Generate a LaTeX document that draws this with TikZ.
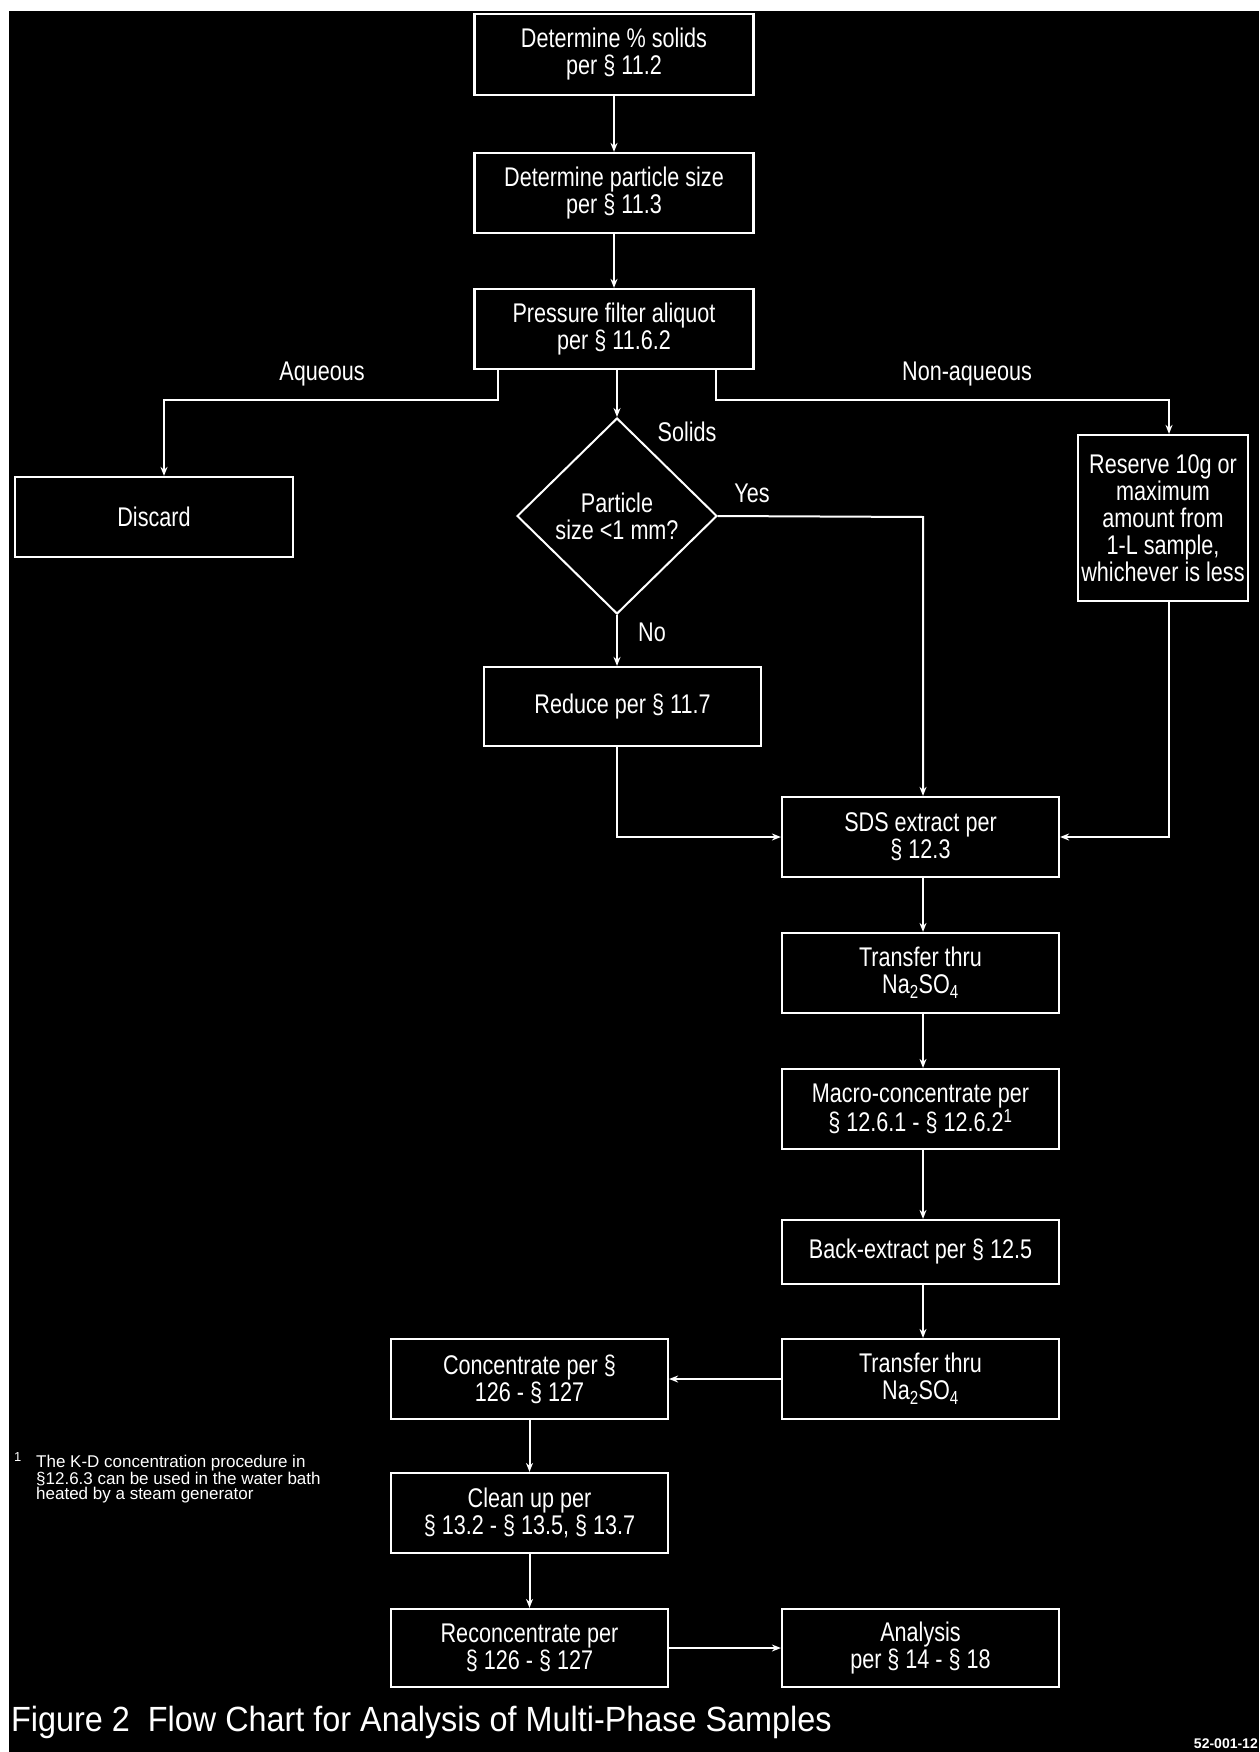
\documentclass[tikz,border=0pt]{standalone}
\usepackage{fontspec}
\setmainfont{Liberation Sans}
\newfontfamily\boxfont[FakeStretch=0.8]{Liberation Sans}
\newfontfamily\capfont[FakeStretch=0.925]{Liberation Sans}
\newfontfamily\notefont[FakeStretch=1.0]{Liberation Sans}
\usetikzlibrary{arrows.meta,shapes.geometric}
\begin{document}
\begin{tikzpicture}[x=1pt,y=-1pt,
  box/.style={draw=white, text=white, line width=2.2pt, align=center, inner sep=0pt,
    font=\boxfont\fontsize{27}{27}\selectfont},
  lbl/.style={text=white, inner sep=0pt, font=\boxfont\fontsize{27}{27}\selectfont},
  arr/.style={draw=white, line width=2pt, -{Stealth[length=9pt,width=7pt]}},
  decision/.style={draw=white, text=white, line width=2pt, diamond, align=center, inner sep=0pt,
    font=\boxfont\fontsize{27}{27}\selectfont}]
\fill[white] (0,0) rectangle (1259,1752);
\fill[black] (9,11) rectangle (1259,1752);
\useasboundingbox (0,0) rectangle (1259,1752);

% main column
\node[box, minimum width=279pt, minimum height=81pt] (b1) at (614,54.5) {Determine \% solids\\per § 11.2};
\node[box, minimum width=279pt, minimum height=80pt] (b2) at (614,193) {Determine particle size\\per § 11.3};
\node[box, minimum width=279pt, minimum height=80pt] (b3) at (614,329) {Pressure filter aliquot\\per § 11.6.2};
\node[box, minimum width=278pt, minimum height=80pt] (discard) at (154,517) {Discard};
\node[box, minimum width=170pt, minimum height=166pt] (reserve) at (1163,518) {Reserve 10g or\\maximum\\amount from\\1-L sample,\\whichever is less};
\node[decision, minimum width=200pt, minimum height=196pt] (dia) at (617,516) {Particle\\size <1 mm?};
\node[box, minimum width=277pt, minimum height=79pt] (reduce) at (622.5,706.5) {Reduce per § 11.7};
\node[box, minimum width=277pt, minimum height=80pt] (sds) at (920.5,837) {SDS extract per\\§ 12.3};
\node[box, minimum width=277pt, minimum height=80pt] (t1) at (920.5,973) {Transfer thru\\Na\textsubscript{2}SO\textsubscript{4}};
\node[box, minimum width=277pt, minimum height=80pt] (macro) at (920.5,1109) {Macro-concentrate per\\§ 12.6.1 - § 12.6.2\textsuperscript{1}};
\node[box, minimum width=277pt, minimum height=64pt] (back) at (920.5,1252) {Back-extract per § 12.5};
\node[box, minimum width=277pt, minimum height=80pt] (t2) at (920.5,1379) {Transfer thru\\Na\textsubscript{2}SO\textsubscript{4}};
\node[box, minimum width=277pt, minimum height=80pt] (conc) at (529.5,1379) {Concentrate per §\\126 - § 127};
\node[box, minimum width=277pt, minimum height=80pt] (clean) at (529.5,1513) {Clean up per\\§ 13.2 - § 13.5, § 13.7};
\node[box, minimum width=277pt, minimum height=78pt] (recon) at (529.5,1648) {Reconcentrate per\\§ 126 - § 127};
\node[box, minimum width=277pt, minimum height=78pt] (analysis) at (920.5,1648) {Analysis\\per § 14 - § 18};

% labels
\node[lbl] (laq) at (322,374) {Aqueous};
\node[lbl] (lnaq) at (967,374) {Non-aqueous};
\node[lbl] (lsol) at (687,432) {Solids};
\node[lbl] (lyes) at (752,493) {Yes};
\node[lbl] (lno) at (652,632) {No};

% helper coordinates
\coordinate (aq1) at (498,400);
\coordinate (aq2) at (164,400);
\coordinate (na1) at (716,400);
\coordinate (na2) at (1169,400);
\coordinate (yc) at (923,517);

% connectors
\draw[arr] (b1) -- (b2);
\draw[arr] (b2) -- (b3);
\draw[arr] (b3.south -| aq1) -- (aq1) -- (aq2) -- (discard.north -| aq2);
\draw[arr] (b3.south -| na1) -- (na1) -- (na2) -- (reserve.north -| na2);
\draw[arr] (b3.south -| dia.north) -- (dia.north);
\draw[arr] (dia.east) -- (yc) -- (sds.north -| yc);
\draw[arr] (dia.south) -- (reduce.north -| dia.south);
\draw[arr] (reduce.south -| dia.south) |- (sds.west);
\draw[arr] (reserve.south -| na2) |- (sds.east);
\draw[arr] (sds.south -| yc) -- (t1.north -| yc);
\draw[arr] (t1.south -| yc) -- (macro.north -| yc);
\draw[arr] (macro.south -| yc) -- (back.north -| yc);
\draw[arr] (back.south -| yc) -- (t2.north -| yc);
\draw[arr] (t2.west) -- (conc.east);
\draw[arr] (conc) -- (clean);
\draw[arr] (clean) -- (recon);
\draw[arr] (recon.east) -- (analysis.west);

% footnote
\node[text=white, inner sep=0pt, anchor=north west, font=\notefont\fontsize{13}{13}\selectfont] (fnm) at (14,1452) {1};
\node[text=white, inner sep=0pt, anchor=north west, align=left, font=\notefont\fontsize{17}{15}\selectfont] (fn) at (36,1455) {The K-D concentration procedure in\\§12.6.3 can be used in the water bath\\heated by a steam generator};

% caption
\node[text=white, inner sep=0pt, anchor=base west, font=\capfont\fontsize{35}{35}\selectfont] (cap) at (11,1731) {Figure 2\ \ Flow Chart for Analysis of Multi-Phase Samples};
\node[text=white, inner sep=0pt, anchor=base east, font=\notefont\bfseries\fontsize{14}{14}\selectfont] (code) at (1258,1748) {52-001-12};
\end{tikzpicture}
\end{document}
